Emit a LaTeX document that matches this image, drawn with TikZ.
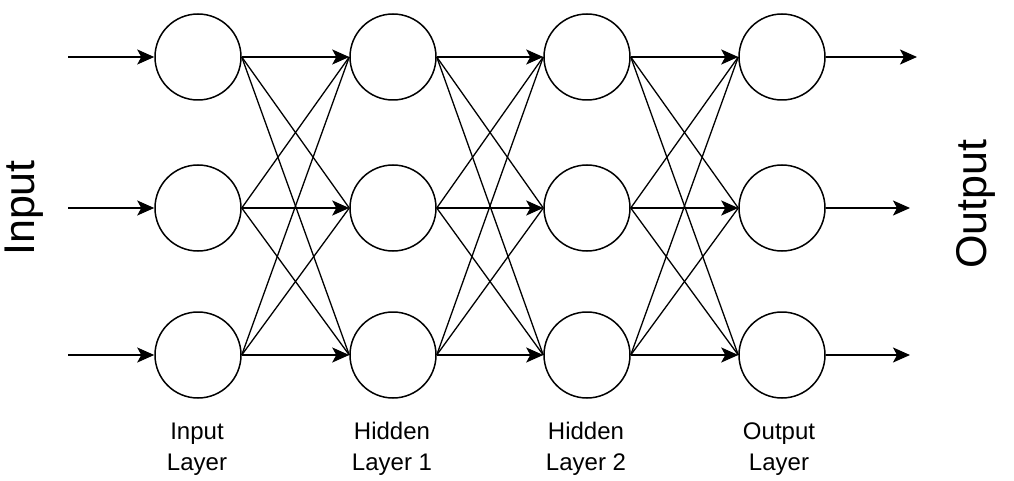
\documentclass[tikz,border=0pt]{standalone}
\usepackage{fontspec}
\setmainfont{Liberation Sans}
\usetikzlibrary{arrows.meta}
\begin{document}
\begin{tikzpicture}[x=1pt,y=-1pt,
  neuron/.style={circle,draw,line width=1.5pt,minimum size=86pt,inner sep=0pt},
  link/.style={line width=1.3pt},
  arr/.style={line width=1.6pt,-{Stealth[length=17pt,width=15pt,inset=4pt]}},
  layerlabel/.style={align=center,font=\fontsize{24}{31}\selectfont},
  sidelabel/.style={rotate=90,font=\fontsize{43}{50}\selectfont}]
\useasboundingbox (0,0) rectangle (1014,481);
\foreach \i/\x in {1/198,2/393,3/587,4/782}{
  \foreach \j/\y in {1/57,2/208,3/355}{
    \node[neuron] (n\i\j) at (\x,\y) {};
  }
}
% input/output connectors
\foreach \j/\y in {1/57,2/208,3/355}{
  \coordinate (in\j) at (68,\y);
  \draw[arr] (in\j) -- (n1\j.west);
}
\coordinate (out1) at (917,57);
\coordinate (out2) at (910,208);
\coordinate (out3) at (910,355);
\foreach \j in {1,2,3}{\draw[arr] (n4\j.east) -- (out\j);}
% layer links
\foreach \i/\k in {1/2,2/3,3/4}{
  \foreach \a in {1,2,3}{
    \foreach \b in {1,2,3}{
      \ifnum\a=\b
        \draw[arr] (n\i\a.east) -- (n\k\b.west);
      \else
        \draw[link] (n\i\a.east) -- (n\k\b.west);
      \fi
    }
  }
}
\node[layerlabel] (l1) at (197,449) {Input\\Layer};
\node[layerlabel] (l2) at (392,449) {Hidden\\Layer 1};
\node[layerlabel] (l3) at (586,449) {Hidden\\Layer 2};
\node[layerlabel] (l4) at (779,449) {Output\\Layer};
\node[sidelabel] (inlab) at (24,208) {Input};
\node[sidelabel] (outlab) at (976,204) {Output};
\end{tikzpicture}
\end{document}
